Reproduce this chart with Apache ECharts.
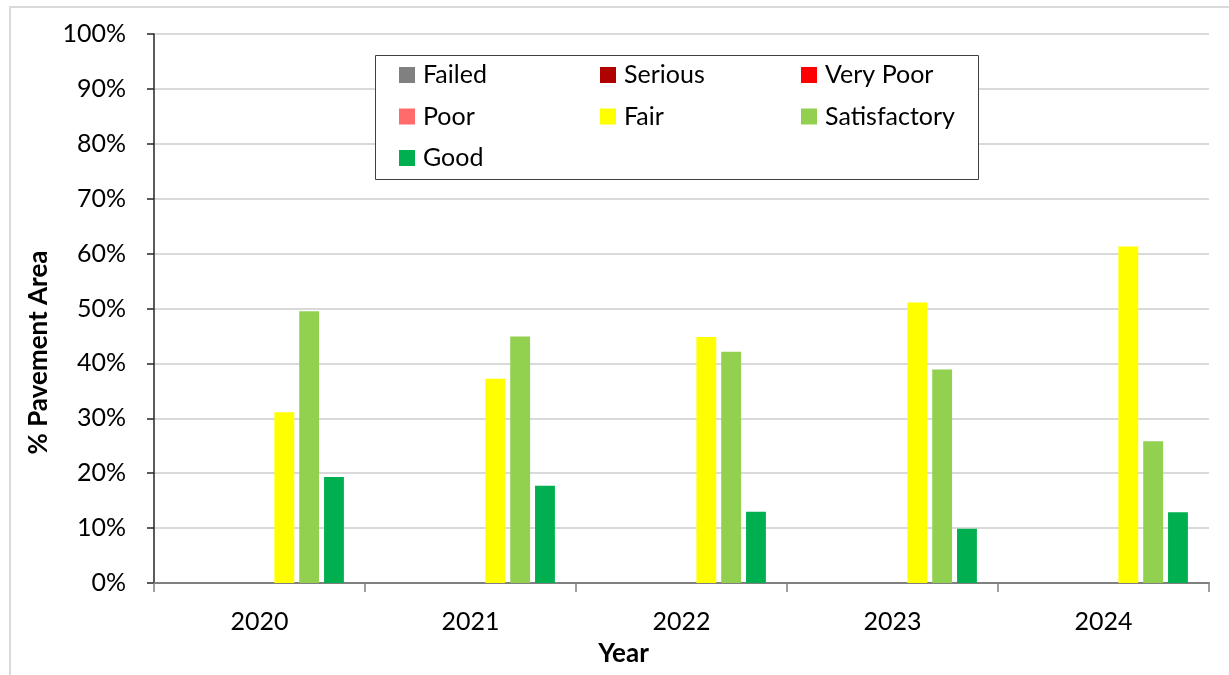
<!DOCTYPE html>
<html>
<head>
<meta charset="utf-8">
<title>Pavement Condition by Year</title>
<script src="https://cdn.jsdelivr.net/npm/echarts@6/dist/echarts.min.js"></script>
<style>
  html, body { margin: 0; padding: 0; background: #ffffff; }
  #chart { width: 1229px; height: 675px; }
</style>
</head>
<body>
<div id="chart"></div>
<script>
// Survey years along the x axis
const years = ['2020', '2021', '2022', '2023', '2024'];

// Percent of pavement area in each condition class, per year
const failed       = [0, 0, 0, 0, 0];
const serious      = [0, 0, 0, 0, 0];
const veryPoor     = [0, 0, 0, 0, 0];
const poor         = [0, 0, 0, 0, 0];
const fair         = [31.1, 37.2, 44.8, 51.1, 61.3];
const satisfactory = [49.5, 44.9, 42.1, 38.9, 25.8];
const good         = [19.3, 17.7, 13.0, 9.9, 12.9];

const conditionNames = ['Failed', 'Serious', 'Very Poor', 'Poor', 'Fair', 'Satisfactory', 'Good'];
const conditionValues = [failed, serious, veryPoor, poor, fair, satisfactory, good];
const conditionColors = ['#808080', '#b00000', '#ff0000', '#ff6b6b', '#ffff00', '#92d050', '#00b050'];

const FONT = 'Lato, "Open Sans", sans-serif';

const series = conditionNames.map((name, i) => ({
  name: name,
  type: 'bar',
  data: conditionValues[i],
  itemStyle: { color: conditionColors[i] },
  barGap: '25%',
  barCategoryGap: '20%'
}));

// Legend laid out as three fixed columns inside one framed box
const legendColumns = [
  { left: 399, data: ['Failed', 'Poor', 'Good'] },
  { left: 600, data: ['Serious', 'Fair'] },
  { left: 801, data: ['Very Poor', 'Satisfactory'] }
];
const legends = legendColumns.map(col => ({
  orient: 'vertical',
  left: col.left,
  top: 62,
  padding: 0,
  itemWidth: 16,
  itemHeight: 16,
  itemGap: 15.5,
  icon: 'rect',
  selectedMode: false,
  data: col.data,
  textStyle: { fontFamily: FONT, fontSize: 25, color: '#000', lineHeight: 26, padding: [0, 0, 0, 3] }
}));

const chart = echarts.init(document.getElementById('chart'), null, { renderer: 'canvas' });
chart.setOption({
  animation: false,
  backgroundColor: '#ffffff',
  textStyle: { fontFamily: FONT },
  grid: { left: 154, right: 20, top: 34, bottom: 92, containLabel: false },
  legend: legends,
  graphic: [
    {
      type: 'rect',
      shape: { x: 10, y: 7, width: 1240, height: 700 },
      style: { fill: 'none', stroke: '#d9d9d9', lineWidth: 2 },
      silent: true
    },
    {
      type: 'rect',
      shape: { x: 375.5, y: 55.5, width: 603, height: 124 },
      style: { fill: '#ffffff', stroke: '#404040', lineWidth: 1 },
      z: 1,
      silent: true
    }
  ],
  xAxis: {
    type: 'category',
    data: years,
    boundaryGap: true,
    name: 'Year',
    nameLocation: 'middle',
    nameGap: 58,
    nameTextStyle: { fontFamily: FONT, fontSize: 26, fontWeight: 'bold', color: '#000', padding: [0, 116, 0, 0] },
    axisLine: { lineStyle: { color: '#808080', width: 2 } },
    axisTick: { show: true, alignWithLabel: false, length: 9, lineStyle: { color: '#808080', width: 1.5 } },
    axisLabel: { fontFamily: FONT, fontSize: 25, color: '#000', margin: 26 },
    splitLine: { show: false }
  },
  yAxis: {
    type: 'value',
    min: 0,
    max: 100,
    interval: 10,
    name: '% Pavement Area',
    nameLocation: 'middle',
    nameGap: 102,
    nameRotate: 90,
    nameTextStyle: { fontFamily: FONT, fontSize: 26, fontWeight: 'bold', color: '#000', padding: [0, 88, 0, 0] },
    axisLine: { show: true, lineStyle: { color: '#262626', width: 1.5 } },
    axisTick: { show: true, length: 7, lineStyle: { color: '#262626', width: 1.5 } },
    axisLabel: { fontFamily: FONT, fontSize: 25, color: '#000', margin: 28, formatter: '{value}%' },
    splitLine: { show: true, lineStyle: { color: '#d9d9d9', width: 2 } }
  },
  series: series
});
</script>
</body>
</html>
